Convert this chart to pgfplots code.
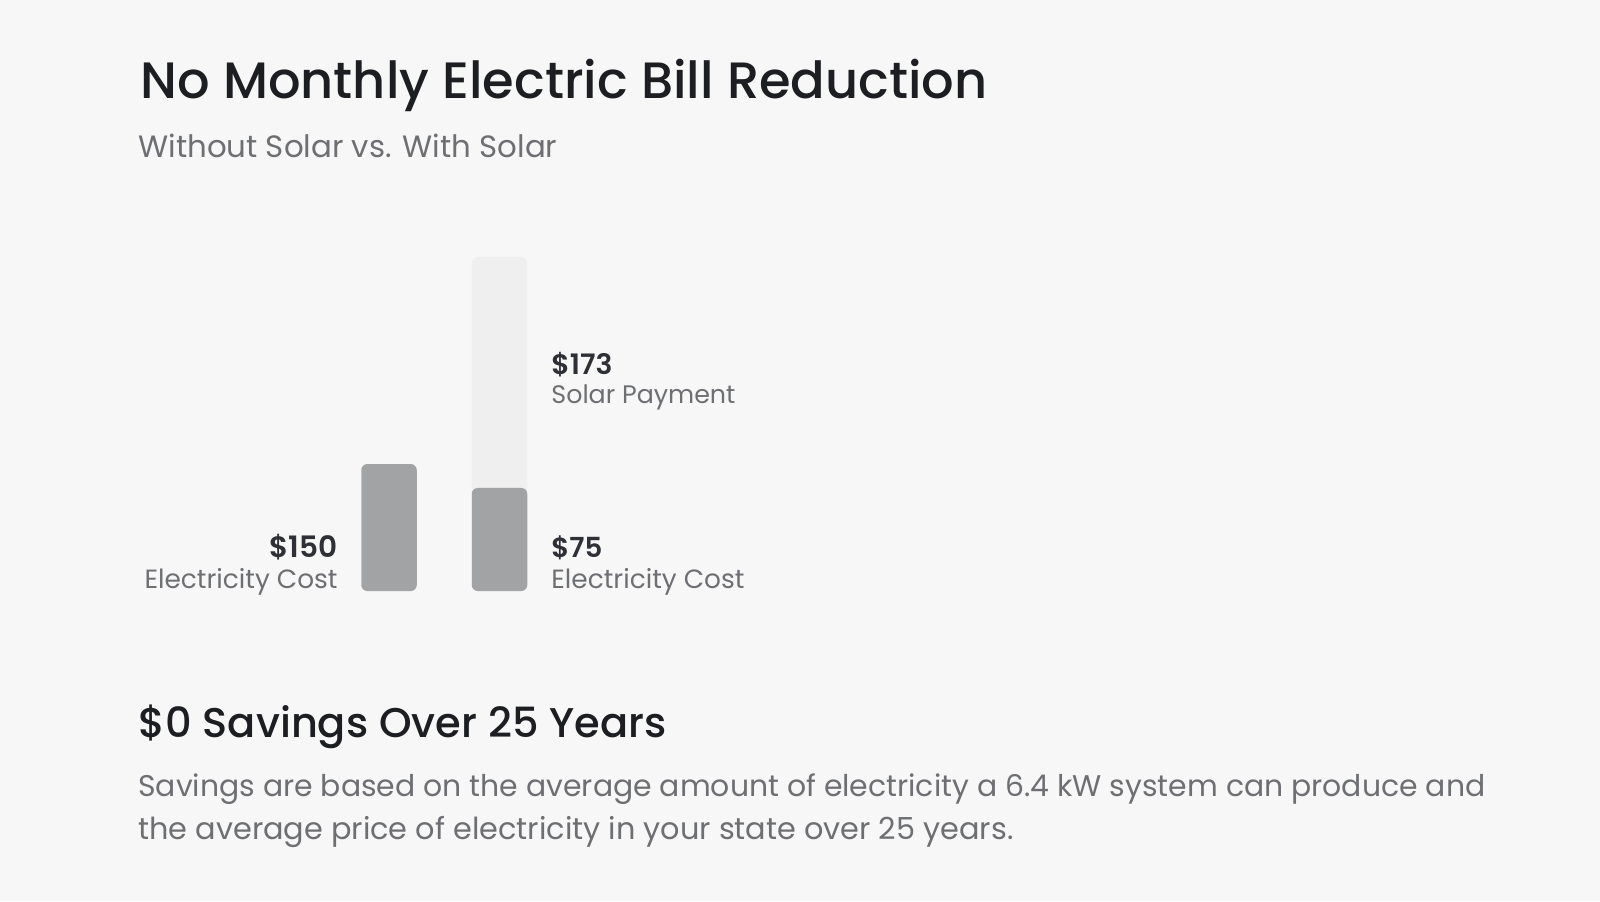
\documentclass[border=0pt]{standalone}
\usepackage{fontspec}
\setmainfont{Poppins}
\newfontfamily\medfont{Poppins SemiBold}
\newfontfamily\titlefont{Poppins Medium}
\usepackage{graphicx}
\usepackage{pgfplots}
\pgfplotsset{compat=1.18}
\definecolor{bg}{HTML}{F7F7F7}
\definecolor{bardark}{HTML}{A2A3A5}
\definecolor{barlight}{HTML}{EFEFEF}
\definecolor{titlec}{HTML}{1C1E22}
\definecolor{subc}{HTML}{6E6F72}
\definecolor{valc}{HTML}{2E3035}
\newcommand{\fitw}[2]{\resizebox{#1}{!}{#2}}
\begin{document}
\begin{tikzpicture}
\fill[bg] (0,0) rectangle (800pt,450.5pt);
\begin{axis}[
  at={(139.25pt,155pt)}, anchor=south west,
  scale only axis, width=165.75pt, height=167pt,
  xmin=0, xmax=3, ymin=0, ymax=394.5,
  hide axis, clip=false]
% with-solar bar: total height (solar payment part shown above electricity cost)
\addplot[ybar, bar width=27.75pt, bar shift=0pt, fill=barlight, draw=none, rounded corners=3pt]
  coordinates {(2,394.5)};
% electricity cost bars
\addplot[ybar, bar width=27.75pt, bar shift=0pt, fill=bardark, draw=none, rounded corners=3pt]
  coordinates {(1,150) (2,121.7)};
\end{axis}
% titles
\node[anchor=base west, inner sep=0, text=titlec] at (70pt,401pt) {\fitw{423.5pt}{\titlefont No Monthly Electric Bill Reduction}};
\node[anchor=base west, inner sep=0, text=subc] at (69pt,371.5pt) {\fitw{209.5pt}{Without Solar vs. With Solar}};
% labels
\node[anchor=base east, inner sep=0, text=valc] at (169pt,172pt) {\fitw{34pt}{\medfont \$150}};
\node[anchor=base east, inner sep=0, text=subc] at (169pt,156.5pt) {\fitw{96.5pt}{Electricity Cost}};
\node[anchor=base west, inner sep=0, text=valc] at (275.5pt,263pt) {\fitw{30.5pt}{\medfont \$173}};
\node[anchor=base west, inner sep=0, text=subc] at (275.5pt,249pt) {\fitw{92pt}{Solar Payment}};
\node[anchor=base west, inner sep=0, text=valc] at (275.5pt,172pt) {\fitw{25.5pt}{\medfont \$75}};
\node[anchor=base west, inner sep=0, text=subc] at (275.5pt,156.5pt) {\fitw{96.5pt}{Electricity Cost}};
% savings
\node[anchor=base west, inner sep=0, text=titlec] at (69pt,82pt) {\fitw{264pt}{\titlefont \$0 Savings Over 25 Years}};
\node[anchor=base west, inner sep=0, text=subc] at (69pt,52.5pt) {\fitw{673.5pt}{Savings are based on the average amount of electricity a 6.4 kW system can produce and}};
\node[anchor=base west, inner sep=0, text=subc] at (69pt,31pt) {\fitw{437.5pt}{the average price of electricity in your state over 25 years.}};
\pgfresetboundingbox
\path (0,0) rectangle (800pt,450.5pt);
\end{tikzpicture}
\end{document}
